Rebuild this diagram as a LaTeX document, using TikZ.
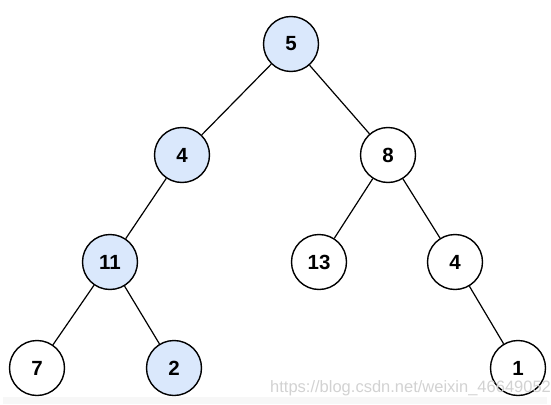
\documentclass[tikz,border=0pt]{standalone}
\usepackage{fontspec}
\setmainfont{Liberation Sans}
\definecolor{hl}{HTML}{DAE8FC}
\definecolor{wm}{HTML}{D2D2D2}
\definecolor{strip}{HTML}{F7F7F7}
\begin{document}
\begin{tikzpicture}[x=1pt,y=-1pt,
  tn/.style={circle,draw=black,line width=1.4pt,minimum size=55pt,inner sep=0pt,fill=white,font=\fontsize{20.5}{24}\selectfont\bfseries},
  hn/.style={tn,fill=hl},
  ed/.style={line width=1.2pt,black}]
\useasboundingbox (0,0) rectangle (551,404);
\fill[strip] (3,397) rectangle (547,404);
\node[hn] (a) at (291,44) {5};
\node[hn] (b) at (182,155) {4};
\node[tn] (c) at (388,155) {8};
\node[hn] (d) at (110,262) {11};
\node[tn] (e) at (319,262) {13};
\node[tn] (f) at (455,262) {4};
\node[tn] (g) at (37,368) {7};
\node[hn] (h) at (174,368) {2};
\node[tn] (i) at (518,368) {1};
\draw[ed] (a) -- (b);
\draw[ed] (a) -- (c);
\draw[ed] (b) -- (d);
\draw[ed] (c) -- (e);
\draw[ed] (c) -- (f);
\draw[ed] (d) -- (g);
\draw[ed] (d) -- (h);
\draw[ed] (f) -- (i);
\node[anchor=base west,text=wm,font=\fontsize{16.5}{18}\selectfont,inner sep=0pt] (w) at (270,392) {https://blog.csdn.net/weixin\_46649052};
\end{tikzpicture}
\end{document}
